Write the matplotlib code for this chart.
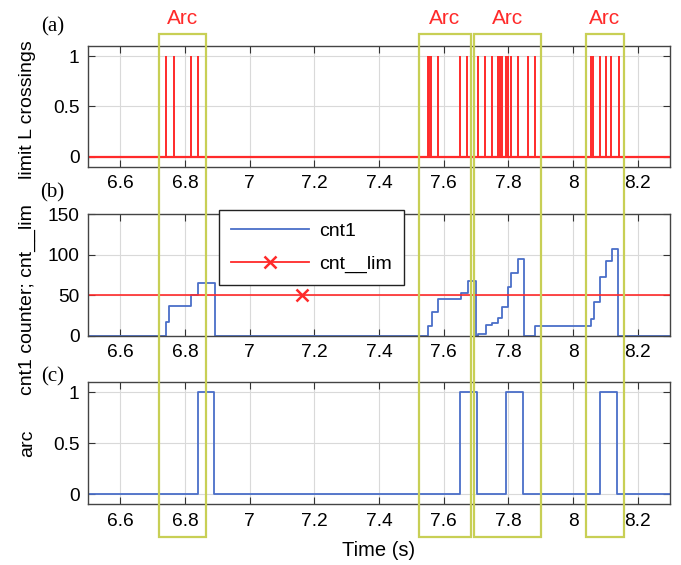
import numpy as np
import matplotlib
matplotlib.use("Agg")
from matplotlib import pyplot as plt
from matplotlib.lines import Line2D
from matplotlib.patches import Rectangle
from matplotlib.transforms import blended_transform_factory
from matplotlib.ticker import FormatStrFormatter

# --- dados ---
cruzamentos = [6.743, 6.766, 6.819, 6.840,
               7.551, 7.556, 7.560, 7.583, 7.651, 7.672,
               7.705, 7.729, 7.750, 7.767, 7.775, 7.781, 7.794, 7.799,
               7.809, 7.829, 7.860, 7.881,
               8.056, 8.061, 8.082, 8.101, 8.118, 8.142]

cnt1_t = [6.5, 6.743, 6.751, 6.819, 6.839, 6.892,
          7.553, 7.563, 7.584, 7.653, 7.675, 7.700, 7.705,
          7.731, 7.750, 7.767, 7.781, 7.799, 7.809, 7.829, 7.848,
          7.881, 8.056, 8.066, 8.084, 8.101, 8.121, 8.138, 8.3]
cnt1_v = [0, 17, 37, 50, 65, 0,
          12, 29, 45, 53, 67, 0, 2,
          13, 16, 22, 35, 60, 77, 95, 0,
          12, 20, 42, 72, 92, 107, 0, 0]

cnt_lim_t = [6.5, 7.162, 8.3]
cnt_lim_v = [50, 50, 50]

arc_t = [6.5, 6.839, 6.889, 7.652, 7.703, 7.794, 7.846, 8.083, 8.135, 8.3]
arc_v = [0, 1, 0, 1, 0, 1, 0, 1, 0, 0]

janelas_arco = [(6.720, 6.866), (7.523, 7.683), (7.695, 7.902), (8.039, 8.157)]

xticks = [6.6, 6.8, 7.0, 7.2, 7.4, 7.6, 7.8, 8.0, 8.2]

azul = "#4a6ec8"
vermelho = "#ff2a2a"
amarelo = "#c8cf55"

plt.rcParams["font.family"] = ["Liberation Sans", "DejaVu Sans"]
plt.rcParams["font.size"] = 13.5

fig = plt.figure(figsize=(6.81, 5.65), dpi=100)
left, width = 0.129, 0.855
ax1 = fig.add_axes([left, 0.705, width, 0.2136])
ax2 = fig.add_axes([left, 0.406, width, 0.215])
ax3 = fig.add_axes([left, 0.1074, width, 0.216])

for ax in (ax1, ax2, ax3):
    ax.set_xlim(6.5, 8.3)
    ax.set_xticks(xticks)
    ax.xaxis.set_major_formatter(FormatStrFormatter("%g"))
    ax.tick_params(direction="in", top=True, right=True, length=5,
                   labelsize=13.8, color="#333333", pad=6)
    ax.grid(True, color="#d9d9d9", linewidth=0.8)
    ax.set_axisbelow(True)
    for s in ax.spines.values():
        s.set_color("#444444")
        s.set_linewidth(1.0)

# (a)
ax1.hlines(0, 6.5, 8.3, color=vermelho, linewidth=1.6)
ax1.vlines(cruzamentos, 0, 1, color=vermelho, linewidth=1.4)
ax1.set_ylim(-0.1, 1.1)
ax1.set_yticks([0, 0.5, 1])
ax1.yaxis.set_major_formatter(FormatStrFormatter("%g"))
ax1.set_ylabel("limit L crossings", fontsize=14)
ax1.yaxis.set_label_coords(-0.089, 0.47)

# (b)
ax2.plot(cnt1_t, cnt1_v, color=azul, linewidth=1.3, drawstyle="steps-post")
ax2.plot(cnt_lim_t, cnt_lim_v, color=vermelho, linewidth=1.2, marker="x",
         markersize=8, markeredgewidth=1.8, markevery=[1])
ax2.set_ylim(0, 150)
ax2.set_yticks([0, 50, 100, 150])
ax2.set_ylabel("cnt1 counter; cnt__lim", fontsize=14)
ax2.yaxis.set_label_coords(-0.089, 0.30)
handles = [Line2D([], [], color=azul, linewidth=1.3),
           Line2D([], [], color=vermelho, linewidth=1.3, marker="x",
                  markersize=8, markeredgewidth=1.8)]
leg = ax2.legend(handles, ["cnt1", "cnt__lim"], loc="upper left",
                 bbox_to_anchor=(0.225, 1.035), borderaxespad=0,
                 fancybox=False, framealpha=1, edgecolor="#222222",
                 handlelength=4.0, handletextpad=0.5, numpoints=1,
                 fontsize=14, borderpad=0.65, labelspacing=0.75)
leg.get_frame().set_linewidth(1.0)
leg.set_zorder(10)

# (c)
ax3.plot(arc_t, arc_v, color=azul, linewidth=1.3, drawstyle="steps-post")
ax3.set_ylim(-0.1, 1.1)
ax3.set_yticks([0, 0.5, 1])
ax3.yaxis.set_major_formatter(FormatStrFormatter("%g"))
ax3.set_ylabel("arc", fontsize=14)
ax3.yaxis.set_label_coords(-0.089, 0.5)
ax3.set_xlabel("Time (s)", fontsize=14.5, labelpad=8)

# caixas dos arcos atravessando os tres paineis
trans = blended_transform_factory(ax1.transData, fig.transFigure)
y0, y1 = 0.0496, 0.94
for a, b in janelas_arco:
    r = Rectangle((a, y0), b - a, y1 - y0, transform=trans, fill=False,
                  edgecolor=amarelo, linewidth=1.6, clip_on=False, zorder=20)
    fig.add_artist(r)
    fig.text((a + b) / 2, 0.968, "Arc", transform=trans, color=vermelho,
             ha="center", va="center", fontsize=15)

for txt, y in [("(a)", 0.952), ("(b)", 0.658), ("(c)", 0.333)]:
    fig.text(0.077, y, txt, family=["Liberation Serif", "DejaVu Serif"],
             fontsize=15, ha="center", va="center")

fig.savefig("out.png", dpi=100)
